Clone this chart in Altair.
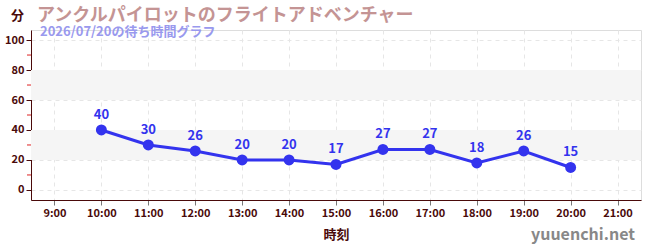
import altair as alt
import pandas as pd

hours = [10, 11, 12, 13, 14, 15, 16, 17, 18, 19, 20]
waits = [40, 30, 26, 20, 20, 17, 27, 27, 18, 26, 15]
band_lo = [20, 60]
band_hi = [40, 80]
minor_ticks = [10, 30, 50, 70, 90]
x_ticks = list(range(9, 22))
y_ticks = [0, 20, 40, 60, 80, 100]

FONT = "Noto Sans CJK JP"
AX = "#4a0a0a"
BLUE = "#3333ee"

df = pd.DataFrame({"h": hours, "w": waits})
bands = pd.DataFrame({"lo": band_lo, "hi": band_hi})
minors = pd.DataFrame({"v": minor_ticks})

xs = alt.Scale(domain=[8.5, 21.5], nice=False, zero=False)
ys = alt.Scale(domain=[-6.7, 106.7], nice=False, zero=False)

xaxis = alt.Axis(values=x_ticks, labelExpr="datum.value + ':00'", title="時刻",
                 grid=True, gridDash=[4, 4], gridColor="#e6e6e6",
                 domainColor=AX, tickColor="#777777", tickSize=5,
                 labelColor=AX, labelFont=FONT, labelFontSize=11, labelFontWeight="bold",
                 titleColor=AX, titleFont=FONT, titleFontSize=13, titleFontWeight="bold",
                 titlePadding=10, labelPadding=2, labelOverlap=False)
yaxis = alt.Axis(values=y_ticks, title=None, grid=True, gridDash=[4, 4], gridColor="#e6e6e6",
                 domainColor=AX, tickColor=AX, tickSize=5,
                 labelColor=AX, labelFont=FONT, labelFontSize=11, labelFontWeight="bold",
                 labelPadding=2, labelOverlap=False, labelBound=False, labelFlush=False)

X = alt.X("h:Q", scale=xs, axis=xaxis)
Y = alt.Y("w:Q", scale=ys, axis=yaxis)

band_layer = alt.Chart(bands).mark_rect(color="#f5f5f5").encode(
    x=alt.value(0), x2=alt.value(610),
    y=alt.Y("lo:Q", scale=ys, axis=yaxis), y2="hi:Q")

line = alt.Chart(df).mark_line(color=BLUE, strokeWidth=3).encode(x=X, y=Y)
pts = alt.Chart(df).mark_circle(color=BLUE, size=120, opacity=1).encode(x=X, y=Y)
labels = alt.Chart(df).mark_text(color=BLUE, font=FONT, fontSize=13, fontWeight="bold",
                                 dy=-15).encode(x=X, y=Y, text="w:Q")

minor = alt.Chart(minors).mark_rule(color="#dd2222", strokeWidth=1).encode(
    x=alt.value(-4), x2=alt.value(0), y=alt.Y("v:Q", scale=ys, axis=yaxis))

title = alt.Chart(pd.DataFrame({"t": ["アンクルパイロットのフライトアドベンチャー"]})).mark_text(
    align="left", baseline="alphabetic", font=FONT, fontSize=18, fontWeight="bold",
    color="#c49494").encode(x=alt.value(6), y=alt.value(-9), text="t:N")
subtitle = alt.Chart(pd.DataFrame({"t": ["2026/07/20の待ち時間グラフ"]})).mark_text(
    align="left", baseline="alphabetic", font=FONT, fontSize=13, fontWeight="bold",
    color="#9999ee").encode(x=alt.value(9), y=alt.value(6), text="t:N")
unit = alt.Chart(pd.DataFrame({"t": ["分"]})).mark_text(
    align="left", baseline="alphabetic", font=FONT, fontSize=13, fontWeight="bold",
    color=AX).encode(x=alt.value(-20), y=alt.value(-10), text="t:N")
wm = alt.Chart(pd.DataFrame({"t": ["yuuenchi.net"]})).mark_text(
    align="right", baseline="alphabetic", font=FONT, fontSize=16, fontWeight="bold",
    color="#888888").encode(x=alt.value(604), y=alt.value(210), text="t:N")

chart = alt.layer(band_layer, line, pts, labels, minor, title, subtitle, unit, wm).properties(
    width=610, height=170,
    autosize=alt.AutoSizeParams(type="none"),
    padding={"left": 31, "top": 30, "right": 9, "bottom": 50},
).configure_view(stroke=None).configure(background="white").configure_axis(
    labelOverlap=False, labelBound=False)

chart.save("out.html", embed_options={"renderer": "svg", "actions": False})
